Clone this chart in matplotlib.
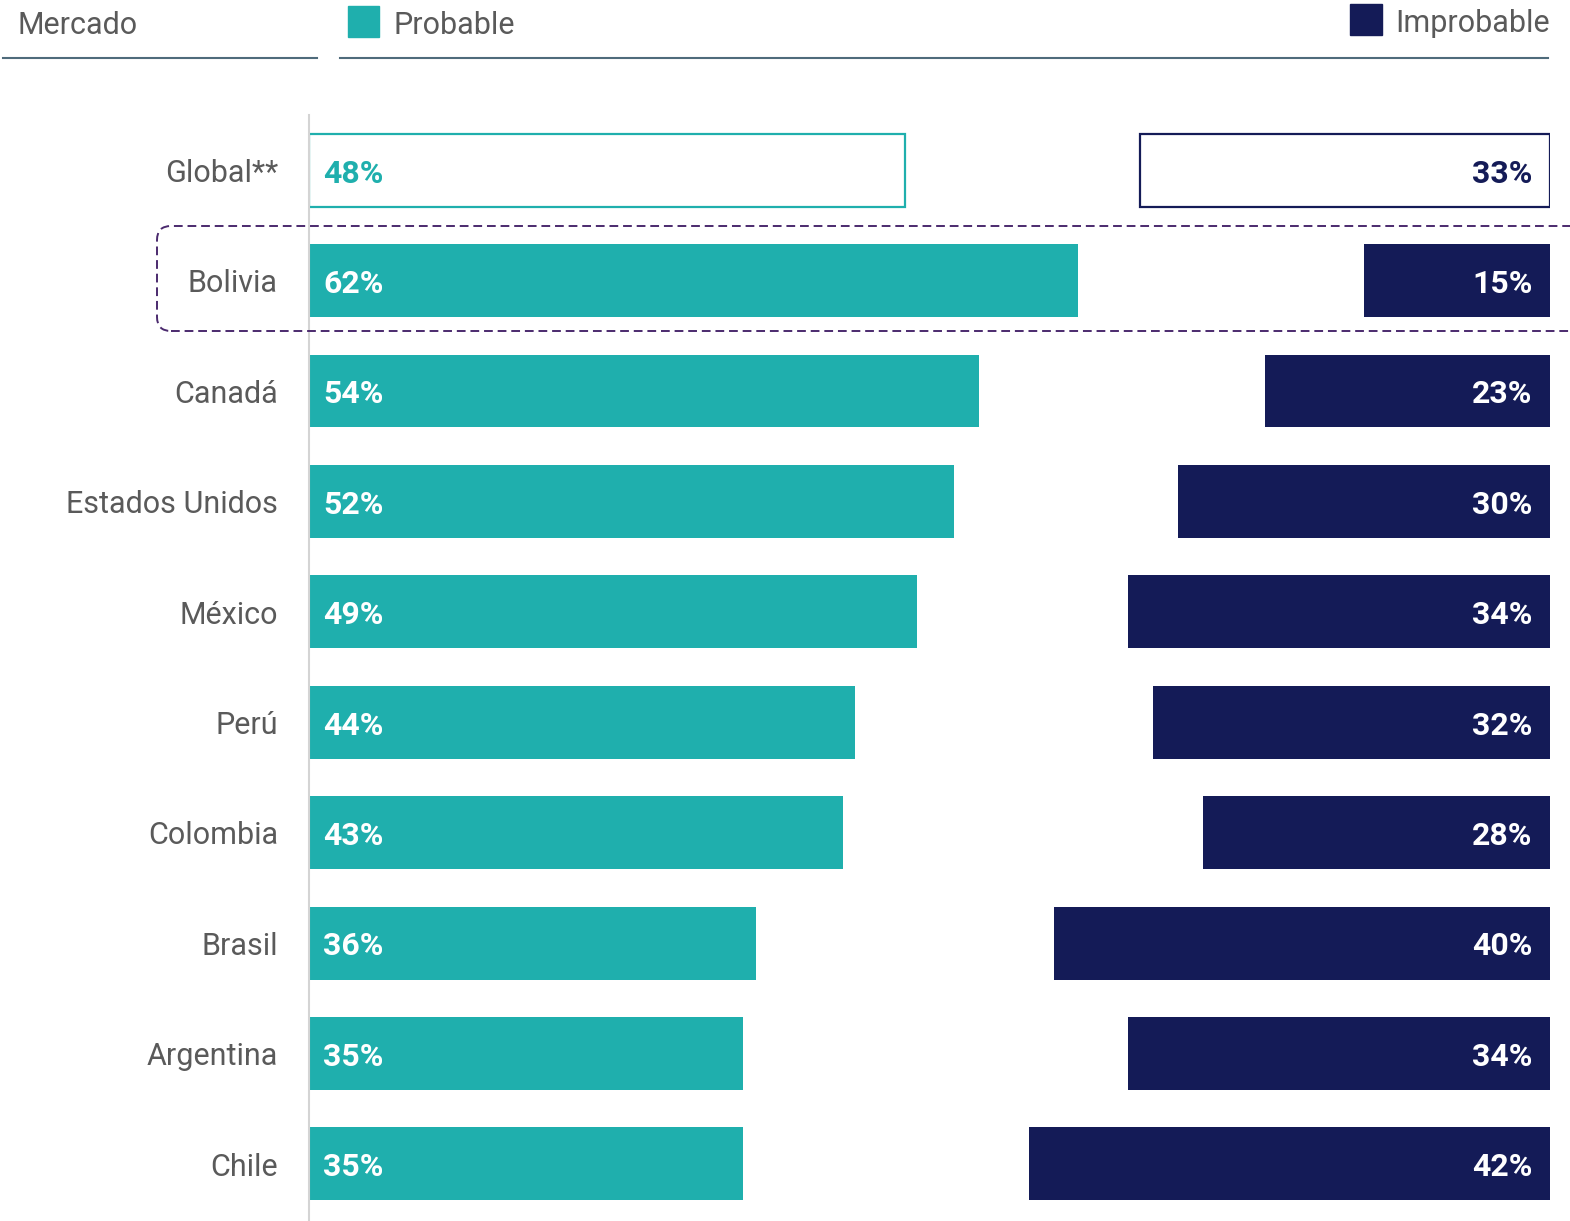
import matplotlib.pyplot as plt
from matplotlib.patches import FancyBboxPatch, Rectangle
from matplotlib.lines import Line2D
from matplotlib.transforms import IdentityTransform

markets = ["Global**", "Bolivia", "Canadá", "Estados Unidos", "México",
           "Perú", "Colombia", "Brasil", "Argentina", "Chile"]
probable = [48, 62, 54, 52, 49, 44, 43, 36, 35, 35]
improbable = [33, 15, 23, 30, 34, 32, 28, 40, 34, 42]

TEAL = "#1fafad"
NAVY = "#141b57"
GREY = "#5a5a5a"
RULE = "#4f6b7b"
DASH = "#4b2a6e"

W, H = 1570, 1221
plt.rcParams["font.family"] = ["Roboto", "DejaVu Sans"]

fig = plt.figure(figsize=(W / 100, H / 100), dpi=100)
ax = fig.add_axes([309 / W, 0, 1241 / W, (H - 115) / H])
ax.set_xlim(0, 100)
ax.set_ylim(9.517, -0.5)
for s in ["top", "right", "bottom"]:
    ax.spines[s].set_visible(False)
ax.spines["left"].set_color("#d4d4d4")
ax.spines["left"].set_linewidth(1.5)
ax.set_xticks([])
ax.set_yticks([])

h = 0.66
dy = 0.03  # nudge text to optical centre
for i, (m, p, q) in enumerate(zip(markets, probable, improbable)):
    if i == 0:
        ax.barh(i, p, left=0, height=h, color="white", edgecolor=TEAL, lw=1.6)
        ax.barh(i, q, left=100 - q, height=h, color="white", edgecolor=NAVY, lw=1.6)
        c1, c2 = TEAL, NAVY
    else:
        ax.barh(i, p, left=0, height=h, color=TEAL)
        ax.barh(i, q, left=100 - q, height=h, color=NAVY)
        c1, c2 = "white", "white"
    ax.text(1.15, i + dy, f"{p}%", color=c1, fontsize=23, fontweight="bold",
            va="center", ha="left")
    ax.text(98.6, i + dy, f"{q}%", color=c2, fontsize=23, fontweight="bold",
            va="center", ha="right")
    ax.text(-2.5, i + dy, m, color=GREY, fontsize=22, va="center", ha="right",
            clip_on=False)

# highlight box around Bolivia (pixel coordinates)
px = IdentityTransform()
fig.patches.append(FancyBboxPatch((157, H - 331), 1430, 105,
                                  boxstyle="round,pad=0,rounding_size=14",
                                  fill=False, ec=DASH, lw=1.4,
                                  ls=(0, (4.5, 2.5)), transform=px))

# header
fig.text(18 / W, 1 - 25 / H, "Mercado", color=GREY, fontsize=22,
         va="center", ha="left")
fig.text(393 / W, 1 - 26 / H, "Probable", color=GREY, fontsize=22,
         va="center", ha="left")
fig.text(1395 / W, 1 - 23 / H, "Improbable", color=GREY, fontsize=22,
         va="center", ha="left")
fig.patches.append(Rectangle((348, H - 37), 31, 31, color=TEAL, transform=px))
fig.patches.append(Rectangle((1350, H - 35), 32, 31, color=NAVY, transform=px))
fig.lines.append(Line2D([3, 317], [H - 58, H - 58], color=RULE, lw=1.5,
                        transform=px))
fig.lines.append(Line2D([340, 1548], [H - 58, H - 58], color=RULE, lw=1.5,
                        transform=px))

fig.savefig("out.png", dpi=100)
